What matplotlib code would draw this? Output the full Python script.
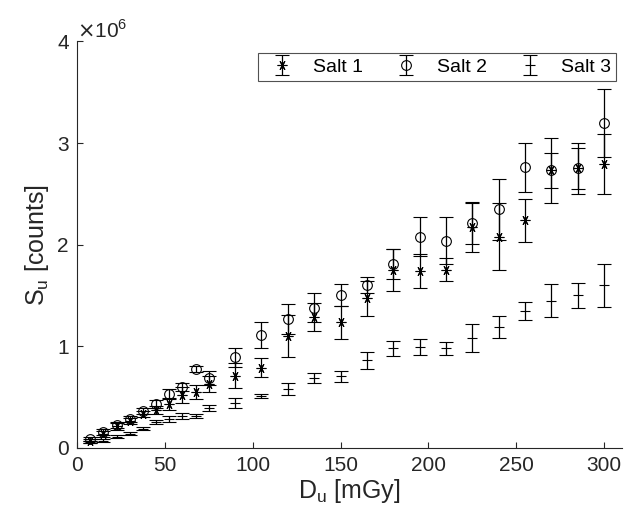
import matplotlib.pyplot as plt
import numpy as np

plt.rcParams['font.family'] = ['Liberation Sans', 'DejaVu Sans']

# dose points [mGy]
dose = [7.5, 15, 22.5, 30, 37.5, 45, 52.5, 60, 67.5, 75,
        90, 105, 120, 135, 150, 165, 180, 195, 210, 225, 240, 255, 270, 285, 300]

# signal values in units of 1e6 counts
salt1 = [0.07, 0.14, 0.21, 0.265, 0.33, 0.37, 0.43, 0.52, 0.55, 0.625,
         0.71, 0.79, 1.10, 1.29, 1.235, 1.47, 1.75, 1.74, 1.755, 2.17, 2.08, 2.24, 2.73, 2.75, 2.79]
salt1_err = [0.02, 0.03, 0.03, 0.03, 0.03, 0.04, 0.06, 0.08, 0.072, 0.08,
             0.126, 0.09, 0.21, 0.136, 0.16, 0.17, 0.21, 0.17, 0.11, 0.245, 0.33, 0.21, 0.17, 0.20, 0.295]

salt2 = [0.085, 0.154, 0.226, 0.28, 0.36, 0.43, 0.53, 0.60, 0.776, 0.69,
         0.89, 1.11, 1.27, 1.38, 1.50, 1.60, 1.81, 2.08, 2.04, 2.21, 2.35, 2.76, 2.73, 2.75, 3.20]
salt2_err = [0.02, 0.03, 0.03, 0.03, 0.03, 0.04, 0.05, 0.04, 0.03, 0.07,
             0.093, 0.13, 0.147, 0.14, 0.108, 0.08, 0.15, 0.19, 0.23, 0.20, 0.30, 0.24, 0.32, 0.25, 0.337]

salt3 = [0.06, 0.07, 0.11, 0.14, 0.19, 0.25, 0.28, 0.31, 0.31, 0.39,
         0.44, 0.51, 0.58, 0.69, 0.705, 0.86, 0.98, 0.99, 0.98, 1.08, 1.19, 1.35, 1.45, 1.50, 1.60]
salt3_err = [0.01, 0.015, 0.015, 0.015, 0.015, 0.02, 0.03, 0.03, 0.02, 0.03,
             0.052, 0.02, 0.06, 0.05, 0.054, 0.08, 0.075, 0.08, 0.062, 0.14, 0.11, 0.09, 0.16, 0.12, 0.21]

fig = plt.figure(figsize=(6.26, 5.25), dpi=100)
ax = fig.add_axes([0.123, 0.147, 0.870, 0.774])

kw = dict(color='black', ecolor='black', elinewidth=0.9, capsize=5, capthick=0.9,
          linestyle='none', markeredgewidth=0.8)
# matlab style asterisk: six thin spokes, one of them vertical
ax.errorbar(dose, np.array(salt1) * 1e6, yerr=np.array(salt1_err) * 1e6,
            marker=(6, 2, 90), markersize=7, label='Salt 1', **kw)
ax.errorbar(dose, np.array(salt2) * 1e6, yerr=np.array(salt2_err) * 1e6,
            marker='o', markersize=7, markerfacecolor='none', label='Salt 2', **kw)
ax.errorbar(dose, np.array(salt3) * 1e6, yerr=np.array(salt3_err) * 1e6,
            marker='_', markersize=7, label='Salt 3', **kw)

ax.set_xlim(0, 310)
ax.set_ylim(0, 4e6)
ax.set_xticks([0, 50, 100, 150, 200, 250, 300])
ax.set_yticks([0, 1e6, 2e6, 3e6, 4e6])
ax.set_yticklabels(['0', '1', '2', '3', '4'])

for s in ['top', 'right']:
    ax.spines[s].set_visible(False)
for s in ['left', 'bottom']:
    ax.spines[s].set_color('#262626')
    ax.spines[s].set_linewidth(0.8)
ax.tick_params(direction='in', length=4, labelsize=15, colors='#262626',
               labelcolor='#262626', pad=6)

ax.set_xlabel('D$_\\mathregular{u}$ [mGy]', fontsize=18, color='#262626', labelpad=1)
ax.set_ylabel('S$_\\mathregular{u}$ [counts]', fontsize=18, color='#262626', labelpad=4)
ax.text(0.0, 1.0, '$\\times$10$^{\\mathregular{6}}$', transform=ax.transAxes,
        fontsize=15, color='#262626', ha='left', va='bottom')

leg = ax.legend(loc='upper right', ncol=3, fontsize=14, frameon=True, fancybox=False,
                edgecolor='#262626', borderaxespad=0.3, handlelength=2.0,
                columnspacing=1.2, handletextpad=0.6, borderpad=0.25,
                bbox_to_anchor=(1.0, 0.985))
leg.get_frame().set_linewidth(0.8)

fig.savefig('out.png', dpi=100)
